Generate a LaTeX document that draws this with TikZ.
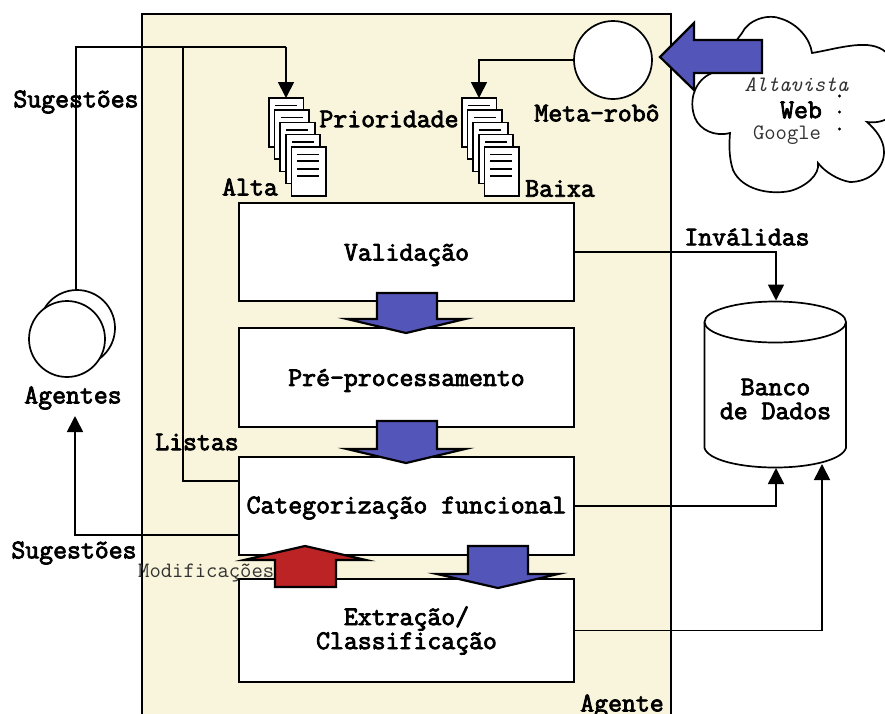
\documentclass[tikz,border=0pt]{standalone}
\usepackage{fontspec}
\usetikzlibrary{arrows.meta}
\newfontfamily\courb{Latin Modern Mono}[FakeBold=3]
\definecolor{agbg}{HTML}{F8F5DC}
\definecolor{blk}{HTML}{5356B8}
\definecolor{rd}{HTML}{BC2325}
\tikzset{
 lbl/.style={font=\courb\fontsize{27}{26}\selectfont,inner sep=0pt,align=center,text=black},
 thinlbl/.style={font=\ttfamily\fontsize{22}{22}\selectfont,inner sep=0pt,text=black!80},
 stage/.style={draw=black,line width=2pt,fill=white,minimum width=335pt,anchor=north west,inner sep=0pt,outer sep=0pt},
 conn/.style={draw=black,line width=1.7pt},
 arr/.style={conn,-{Triangle[length=16pt,width=16pt]}},
 blockarrow/.style={draw=black,line width=2.2pt,miter limit=12},
 sheet/.style={draw=black,line width=1.7pt,fill=white},
 txtline/.style={draw=black,line width=1.5pt},
 disc/.style={circle,draw=black,line width=1.7pt,fill=white,inner sep=0pt,outer sep=0pt}
}
\newcommand{\docstack}[2]{%
 \foreach \k in {0,1,2,3,4}{%
  \pgfmathsetmacro{\dx}{#1+5.6*\k}\pgfmathsetmacro{\dy}{#2+12.2*\k}%
  \draw[sheet] (\dx,\dy) rectangle ++(34.5,49);
  \draw[txtline] (\dx+6,\dy+7.5) -- ++(22,0);
 }%
 \pgfmathsetmacro{\dx}{#1+22.4}\pgfmathsetmacro{\dy}{#2+48.8}%
 \foreach \m in {14,22,29}{\draw[txtline] (\dx+6,\dy+\m) -- ++(22,0);}
}
\begin{document}
\begin{tikzpicture}[x=1pt,y=-1pt]
\useasboundingbox (0,0) rectangle (885,713);
\clip (0,0) rectangle (885,713);
\fill[white] (0,0) rectangle (885,713);
% agent area
\node[draw=black,line width=2pt,fill=agbg,minimum width=529.5pt,minimum height=740pt,anchor=north west,inner sep=0pt,outer sep=0pt] (agent) at (141.7,14.3) {};
% cloud
\draw[line width=1.7pt,fill=white] (742,33)
 .. controls (748,20) and (768,13) .. (782,19)
 .. controls (797,24) and (810,38) .. (812,53)
 .. controls (830,50) and (850,44) .. (867,45)
 .. controls (880,46) and (888,52) .. (892,60)
 -- (892,115)
 .. controls (885,122) and (875,123) .. (867,122)
 .. controls (876,130) and (884,140) .. (884,152)
 .. controls (884,170) and (868,182) .. (850,182)
 .. controls (838,180) and (825,172) .. (818,163)
 .. controls (820,175) and (805,187) .. (790,191)
 .. controls (770,195) and (742,190) .. (733,170)
 .. controls (729,158) and (729,145) .. (730,133)
 .. controls (715,137) and (700,130) .. (695,118)
 .. controls (688,100) and (695,80) .. (712,73)
 -- (742,33) -- cycle;
% meta robot
\node[disc,minimum size=78pt] (meta) at (613,60) {};
\node[lbl] (metal) at (597,113) {Meta-robô};
% block arrow web
\draw[blockarrow,fill=blk] (660,57) -- (694,23) -- (694,40) -- (762,40) -- (762,73) -- (694,73) -- (694,90) -- cycle;
% cloud text
\node[thinlbl,font=\ttfamily\itshape\fontsize{22}{22}\selectfont] (alta) at (796.5,85) {Altavista};
\node[lbl] (web) at (801,110) {Web};
\node[thinlbl] (goog) at (787,135) {Google};
\fill (839.5,96) circle (1.7) (839.5,112) circle (1.7) (839.5,129) circle (1.7);
% doc stacks
\docstack{269}{98}
\docstack{462}{98}
\coordinate (altain) at (286,98);
\coordinate (baixain) at (479,98);
\coordinate (junct) at (286,47);
% stages
\node[stage,minimum height=98pt] (val) at (239,203) {};
\node[stage,minimum height=99pt] (pre) at (239,328) {};
\node[stage,minimum height=98pt] (cat) at (239,457) {};
\node[stage,minimum height=103pt] (ext) at (239,579) {};
\node[lbl] at ([yshift=-3pt]val.center) {Validação};
\node[lbl] at ([yshift=-3pt]pre.center) {Pré-processamento};
\node[lbl] at ([yshift=-2pt]cat.center) {Categorização funcional};
\node[lbl,text width=335pt] at (ext.center) {Extração/\\[-2pt]Classificação};
% labels
\node[lbl] (sug1) at (76,102) {Sugestões};
\node[lbl] (prio) at (389,119) {Prioridade};
\node[lbl] (altal) at (250,187) {Alta};
\node[lbl] (baixal) at (560,188.5) {Baixa};
\node[lbl] (inval) at (747,237) {Inválidas};
\node[lbl] (ageL) at (73,398) {Agentes};
\node[lbl] (list) at (197,442) {Listas};
\node[lbl] (sug2) at (74,553) {Sugestões};
\node[lbl] (agl) at (622,706) {Agente};
% agents
\node[disc,minimum size=76pt] (ag2) at (77,328) {};
\node[disc,minimum size=76pt] (ag1) at (67,339) {};
% database
\coordinate (dbl) at (704.5,322);
\coordinate (dbr) at (846,322);
\draw[line width=1.7pt,fill=white] (dbl) -- (704.5,448) .. controls (708,460) and (740,467.5) .. (775,467.5) .. controls (810,467.5) and (842,460) .. (846,448) -- (dbr);
\draw[line width=1.7pt,fill=white] (775.25,322) ellipse (70.75 and 20.5);
\node[lbl] at (775.5,399) {Banco\\[-2pt]de Dados};
\coordinate (dbtop) at (776,300.5);
\coordinate (dbc) at (776,468);
\coordinate (dbe) at (822,464);
% connectors
\draw[conn] (76,290) -- (76,47) -- (junct);
\draw[arr] (junct) -- (altain);
\draw[conn] ([yshift=25pt]cat.west) -- (183,481) -- (183,47);
\draw[arr] (meta.west) -- (479,60) -- (baixain);
\draw[arr] (val.east) -- (776,252) -- (dbtop);
\draw[arr] (cat.east) -- (776,506) -- (dbc);
\draw[arr] (ext.east) -- (822,630.5) -- (dbe);
\draw[arr] ([yshift=-29pt]cat.west) -- (75,535) -- (75,416);
% block arrows between stages
\draw[blockarrow,fill=blk] (377,293) -- (437,293) -- (437,319) -- (465,319) -- (406,333) -- (347,319) -- (377,319) -- cycle;
\draw[blockarrow,fill=blk] (377,421) -- (437,421) -- (437,449) -- (465,449) -- (406,463) -- (347,449) -- (377,449) -- cycle;
\draw[blockarrow,fill=blk] (468,546) -- (528,546) -- (528,574) -- (558,574) -- (498,588) -- (437,574) -- (468,574) -- cycle;
\draw[blockarrow,fill=rd] (275,587) -- (336,587) -- (336,560) -- (366,560) -- (305,546) -- (244,560) -- (275,560) -- cycle;
\node[thinlbl,anchor=west] (modif) at (138,572.5) {Modificações};
\end{tikzpicture}
\end{document}
